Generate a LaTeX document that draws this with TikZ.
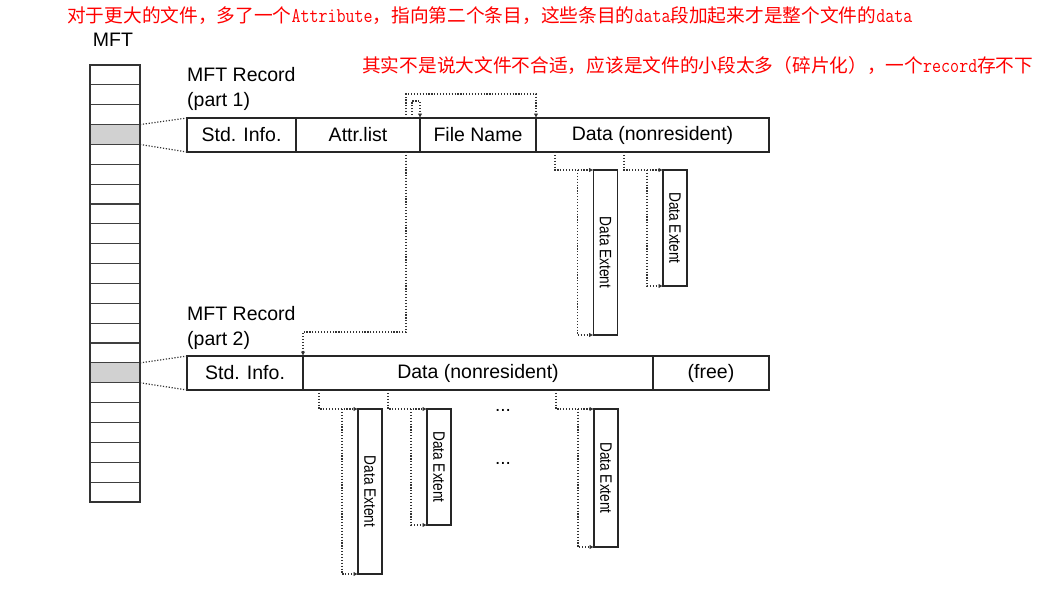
\documentclass[tikz,border=0pt]{standalone}
\usepackage{fontspec}
\setmainfont{Liberation Sans}
\newfontfamily\cjk{Noto Sans CJK SC}
\newcommand{\lat}[1]{\scalebox{1}[1.2]{\ttfamily\fontsize{17.5}{20}\selectfont #1}}
\newcommand{\extlabel}{\rotatebox{-90}{\scalebox{0.83}[1]{Data Extent}}}
\usetikzlibrary{arrows.meta}
\begin{document}
\begin{tikzpicture}[x=1pt,y=-1pt,
  field/.style={draw=black!85, line width=1.3pt, minimum height=34pt, inner sep=0pt, outer sep=0pt, font=\fontsize{19.5}{22}\selectfont},
  extent/.style={draw=black!85, line width=1.3pt, minimum width=24pt, inner sep=0pt, outer sep=0pt, font=\fontsize{16.5}{18}\selectfont},
  mftrow/.style={draw=black!75, line width=1.1pt, minimum width=50pt, minimum height=19.86pt, inner sep=0pt, outer sep=0pt},
  link/.style={draw=black!80, line width=1.2pt, dash pattern=on 1.2pt off 1.7pt},
  linkarrow/.style={link, -{Latex[length=4.5pt,width=4.5pt]}},
  lbl/.style={font=\fontsize{19.5}{22}\selectfont, anchor=base west, inner sep=0pt},
  note/.style={text=red, font=\cjk\fontsize{18.7}{20}\selectfont, anchor=base west, inner sep=0pt}
]
\useasboundingbox (0,0) rectangle (1057,608);

% notes
\node[note] (n1) at (67,22) {对于更大的文件，多了一个\lat{Attribute}，指向第二个条目，这些条目的\lat{data}段加起来才是整个文件的\lat{data}};
\node[note] (n2) at (362,72) {其实不是说大文件不合适，应该是文件的小段太多（碎片化），一个\lat{record}存不下};

% MFT column
\node[font=\fontsize{19.5}{22}\selectfont, inner sep=0pt] (mftl) at (113,40) {MFT};
\foreach \i in {1,...,22}{
  \ifnum\i=4 \def\rowfill{black!18}\else\ifnum\i=16 \def\rowfill{black!18}\else\def\rowfill{white}\fi\fi
  \node[mftrow, fill=\rowfill] (m\i) at (115, 65+19.86*\i-9.93) {};
}
\draw[black!80, line width=1.4pt] (m1.north west) rectangle (m22.south east);

% record 1
\node[lbl] (t1a) at (187,81) {MFT Record};
\node[lbl] (t1b) at (187,106) {(part 1)};
\node[field, minimum width=109pt] (r1a) at (241.5,135) {Std. Info.};
\node[field, minimum width=124pt] (r1b) at (358,135) {Attr.list};
\node[field, minimum width=116pt] (r1c) at (478,135) {File Name};
\node[field, minimum width=233pt] (r1d) at (652.5,135) {Data (nonresident)};

% record 2
\node[lbl] (t2a) at (187,320) {MFT Record};
\node[lbl] (t2b) at (187,345) {(part 2)};
\node[field, minimum width=116pt] (r2a) at (245,373) {Std. Info.};
\node[field, minimum width=350pt] (r2b) at (478,373) {Data (nonresident)};
\node[field, minimum width=116pt] (r2c) at (711,373) {(free)};

% extents
\node[extent, minimum height=165pt] (eA) at (605.5,252.5) {\extlabel};
\node[extent, minimum height=116pt] (eB) at (675,228) {\extlabel};
\node[extent, minimum height=165pt] (eC) at (370,491.5) {\extlabel};
\node[extent, minimum height=116pt] (eD) at (439,467) {\extlabel};
\node[extent, minimum height=138pt] (eE) at (606,478) {\extlabel};

\node[font=\fontsize{19}{22}\selectfont, anchor=base, inner sep=0pt] (d1) at (503,411) {...};
\node[font=\fontsize{19}{22}\selectfont, anchor=base, inner sep=0pt] (d2) at (503,464) {...};

% MFT to records
\draw[link] (m4.north east) -- (r1a.north west);
\draw[link] (m4.south east) -- (r1a.south west);
\draw[link] (m16.north east) -- (r2a.north west);
\draw[link] (m16.south east) -- (r2a.south west);

% attribute list links
\draw[linkarrow] (r1b.north east) ++(-14,0) -- ++(0,-24) -| (r1d.north west);
\draw[linkarrow] (r1b.north east) ++(-8,0) -- ++(0,-17) -| (r1c.north west);
\draw[linkarrow] (r1b.south east) ++(-14,0) -- ++(0,180) -| (r2b.north west);

% record 1 extents
\draw[linkarrow] (r1d.south west) ++(19,0) |- (eA.north west);
\draw[linkarrow] ([xshift=-16pt]eA.north west) |- (eA.south west);
\draw[linkarrow] (r1d.south west) ++(88,0) |- (eB.north west);
\draw[linkarrow] ([xshift=-16pt]eB.north west) |- (eB.south west);

% record 2 extents
\draw[linkarrow] (r2b.south west) ++(16,0) |- (eC.north west);
\draw[linkarrow] ([xshift=-16pt]eC.north west) |- (eC.south west);
\draw[linkarrow] (r2b.south west) ++(85,0) |- (eD.north west);
\draw[linkarrow] ([xshift=-16pt]eD.north west) |- (eD.south west);
\draw[linkarrow] (r2b.south west) ++(253,0) |- (eE.north west);
\draw[linkarrow] ([xshift=-16pt]eE.north west) |- (eE.south west);
\end{tikzpicture}
\end{document}
